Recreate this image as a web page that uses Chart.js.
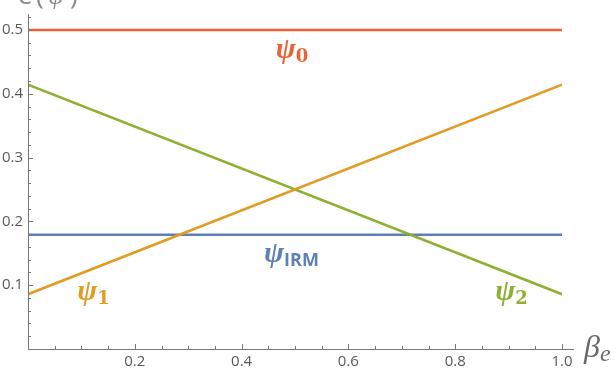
<!DOCTYPE html>
<html>
<head>
<meta charset="utf-8">
<script src="https://cdn.jsdelivr.net/npm/chart.js@4/dist/chart.umd.min.js"></script>
<style>
  body { margin: 0; background: #fff; }
  canvas { display: block; }
</style>
</head>
<body>
<canvas id="psiChart" width="616" height="368"></canvas>
<script>
// data
const betaE = [0, 1];
const psi0 = [0.5, 0.5];
const psi1 = [0.0858, 0.4142];
const psi2 = [0.4142, 0.0858];
const psiIRM = [0.179, 0.179];

const xTicks = [0.2, 0.4, 0.6, 0.8, 1.0];
const yTicks = [0.1, 0.2, 0.3, 0.4, 0.5];

const BLUE = '#5E81B5', ORANGE = '#E19C24', GREEN = '#8FB032', RED = '#EB6235';
const AXIS = '#777777', TEXT = '#5a5a5a';

const pts = ys => betaE.map((x, i) => ({ x: x, y: ys[i] }));

// curve labels, anchored in data coordinates
const curveLabels = [
  { x: 0.464, y: 0.456, sub: '0', color: RED },
  { x: 0.442, y: 0.137, sub: 'IRM', color: BLUE, sans: true },
  { x: 0.092, y: 0.077, sub: '1', color: ORANGE },
  { x: 0.875, y: 0.077, sub: '2', color: GREEN }
];

// Mathematica-style axes: ticks pointing inward, extra labels
const axesPlugin = {
  id: 'axesPlugin',
  afterDatasetsDraw(chart) {
    const ctx = chart.ctx;
    const xs = chart.scales.x, ys = chart.scales.y;
    const a = chart.chartArea;
    ctx.save();
    ctx.strokeStyle = AXIS;
    ctx.lineWidth = 1;
    ctx.beginPath();
    ctx.moveTo(a.left + 0.5, a.top);
    ctx.lineTo(a.left + 0.5, a.bottom);
    ctx.moveTo(a.left, a.bottom + 0.5);
    ctx.lineTo(a.right + 12, a.bottom + 0.5);
    // x ticks every 0.05
    for (let i = 0; i <= 20; i++) {
      const v = i * 0.05;
      const px = Math.round(xs.getPixelForValue(v)) + 0.5;
      const len = (i % 4 === 0) ? 5 : 3;
      ctx.moveTo(px, a.bottom);
      ctx.lineTo(px, a.bottom - len);
    }
    // y ticks every 0.02
    for (let i = 0; i <= 26; i++) {
      const v = i * 0.02;
      const py = Math.round(ys.getPixelForValue(v)) + 0.5;
      const len = (i % 5 === 0) ? 5 : 3;
      ctx.moveTo(a.left, py);
      ctx.lineTo(a.left + len, py);
    }
    ctx.stroke();

    // curve labels
    ctx.textBaseline = 'alphabetic';
    ctx.textAlign = 'left';
    curveLabels.forEach(l => {
      const px = xs.getPixelForValue(l.x);
      const py = ys.getPixelForValue(l.y);
      ctx.fillStyle = l.color;
      ctx.font = 'italic bold 30px "Liberation Serif"';
      ctx.fillText('ψ', px, py);
      const w = ctx.measureText('ψ').width;
      ctx.font = l.sans ? 'bold 18px "Open Sans"' : 'bold 18px "DejaVu Serif"';
      ctx.fillText(l.sub, px + w, py + 4);
    });

    // axis titles
    ctx.fillStyle = '#6a6a6a';
    ctx.font = 'italic 32px "Liberation Serif"';
    ctx.fillText('β', a.right + 22, a.bottom + 8);
    const bw = ctx.measureText('β').width;
    ctx.font = 'italic 24px "Liberation Serif"';
    ctx.fillText('e', a.right + 22 + bw, a.bottom + 12);

    // y title, clipped by the top edge of the picture
    ctx.font = '26px "Open Sans"';
    ctx.fillStyle = '#888888';
    ctx.fillText('e', 18, 4);
    ctx.fillText('(', 36, 4);
    ctx.font = 'italic 26px "Liberation Serif"';
    ctx.fillText('ψ', 48, 4);
    ctx.font = '26px "Open Sans"';
    ctx.fillText(')', 70, 4);
    ctx.restore();
  }
};

const ctx = document.getElementById('psiChart').getContext('2d');
new Chart(ctx, {
  type: 'line',
  data: {
    datasets: [
      { label: 'psi0', data: pts(psi0), borderColor: RED },
      { label: 'psi1', data: pts(psi1), borderColor: ORANGE },
      { label: 'psi2', data: pts(psi2), borderColor: GREEN },
      { label: 'psiIRM', data: pts(psiIRM), borderColor: BLUE }
    ]
  },
  options: {
    responsive: false,
    animation: false,
    layout: { padding: { top: 14, right: 54, bottom: 0, left: 0 } },
    elements: {
      line: { borderWidth: 2.6, tension: 0 },
      point: { radius: 0 }
    },
    plugins: {
      legend: { display: false },
      tooltip: { enabled: false }
    },
    scales: {
      x: {
        type: 'linear',
        min: 0,
        max: 1,
        grid: { display: false, drawTicks: false },
        border: { display: false },
        afterBuildTicks: s => { s.ticks = xTicks.map(v => ({ value: v })); },
        afterFit: s => { s.height = 19; },
        ticks: {
          padding: 4,
          color: TEXT,
          font: { family: 'Open Sans', size: 15 },
          maxRotation: 0,
          callback: v => v.toFixed(1)
        }
      },
      y: {
        type: 'linear',
        min: 0,
        max: 0.525,
        grid: { display: false, drawTicks: false },
        border: { display: false },
        afterBuildTicks: s => { s.ticks = yTicks.map(v => ({ value: v })); },
        afterFit: s => { s.width = 28; },
        ticks: {
          padding: 5,
          color: TEXT,
          font: { family: 'Open Sans', size: 15 },
          callback: v => v.toFixed(1)
        }
      }
    }
  },
  plugins: [axesPlugin]
});
</script>
</body>
</html>
